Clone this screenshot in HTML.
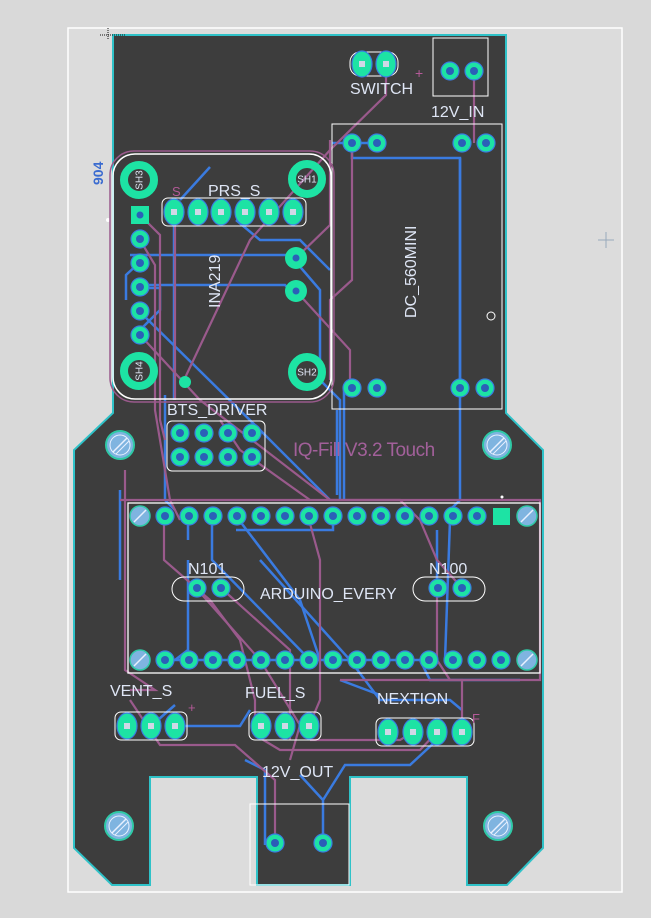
<!DOCTYPE html>
<html><head><meta charset="utf-8"><style>
html,body{margin:0;padding:0;background:#d9d9d9}
svg{display:block}
text{font-family:"Liberation Sans",sans-serif}
</style></head><body>
<svg width="651" height="918" viewBox="0 0 651 918" xmlns="http://www.w3.org/2000/svg">
<defs>
<g id="scr"><circle r="14" fill="#7fb4e0" stroke="#2fc9a6" stroke-width="2"/><circle r="10" fill="none" stroke="#e8f0ff" stroke-width="1"/><line x1="-7" y1="7" x2="7" y2="-7" stroke="#e8f0ff" stroke-width="1.5"/><line x1="-4" y1="9" x2="9" y2="-4" stroke="#e8f0ff"/></g>
<g id="sscr"><circle r="10" fill="#7fb4e0" stroke="#2fc9a6" stroke-width="1.5"/><line x1="-6" y1="6" x2="6" y2="-6" stroke="#e8f0ff" stroke-width="1.5"/></g>
<g id="pd"><circle r="9" fill="#1de3a4" stroke="#3a7be0" stroke-width="1.2"/><circle r="4" fill="#2b5fb8"/></g>
<g id="pdo"><ellipse rx="10" ry="13" fill="#1de3a4" stroke="#3a7be0" stroke-width="1.2"/><rect x="-3" y="-3" width="6" height="6" fill="#cfd8e6"/></g>
<g id="sh"><circle r="15" fill="none" stroke="#1de3a4" stroke-width="8"/></g>
</defs>
<rect x="68" y="28" width="554" height="864" fill="#dcdcdc" stroke="#fff" stroke-width="1.5"/>
<path d="M113 35 H506 V413 L543 450 V848 L507 885 H467 V777 H350 V885 H257 V777 H150 V885 H112 L74 848 V450 L113 413 Z" fill="#3d3d3d" stroke="#2fc2c8" stroke-width="2"/>
<path d="M108 28 V40 M100 35 H125" stroke="#111" stroke-dasharray="1,1"/>
<text x="103" y="185" transform="rotate(-90 103 185)" font-size="14" font-weight="bold" fill="#3a6bd0">904</text>
<circle cx="108" cy="220" r="2" fill="#fff"/>
<path d="M598 240 H614 M606 232 V248" stroke="#9ab" stroke-width="1"/>

<g fill="none" stroke="#3a7be0" stroke-width="2.5">
<path d="M352 143 H332 M352 143 V158 H460 V388 M377 143 H352"/>
<path d="M460 158 V380 M460 395 V500 L450 510"/>
<path d="M344 390 V500 M337 410 V495"/>
<path d="M210 167 L180 200"/>
<path d="M140 262 L126 275 V300 M140 288 H160 V310 L140 330"/>
<path d="M130 255 H290 L320 290 V380 L340 400 V500"/>
<path d="M140 285 H285 L300 300"/>
<path d="M140 312 L260 430 L330 500"/>
<path d="M174 225 V400 M165 395 V500 L175 510"/>
<path d="M236 220 L260 240 H300 L330 270"/>
<path d="M188 516 V540 M212 516 V560 L310 660 M236 516 L300 600 L320 660"/>
<path d="M236 530 H333 V516"/>
<path d="M188 560 V650 L175 660 H300"/>
<path d="M309 660 H420 L430 680 L520 680"/>
<path d="M260 560 L350 660 L380 700 H450 L462 710"/>
<path d="M437 530 V588 M450 520 L445 660"/>
<path d="M151 726 L175 705 M175 726 H240 L250 710"/>
<path d="M265 845 V770 L245 760 M323 843 V800 L300 775 M323 800 L345 765 H410 L437 740"/>
<path d="M120 490 V580 M340 680 L380 695"/>
</g>
<g fill="none" stroke="#9a5a8c" stroke-width="2.2">
<path d="M386 64 V95 L330 150 L250 240 L184 380"/>
<path d="M474 71 V143 M352 143 V280 L330 300 V380"/>
<path d="M296 258 L330 225 V140"/>
<path d="M296 291 L350 350 V388"/>
<path d="M140 215 L160 235 V420 L165 440"/>
<path d="M140 240 L155 265 V410 L170 500 L180 520"/>
<path d="M140 335 L200 400 L330 500 H400 L420 520 L437 560 L462 588"/>
<path d="M175 212 V400"/>
<path d="M125 470 V670 L155 690 H130"/>
<path d="M120 500 H540 V680 H340"/>
<path d="M164 516 V560 L210 600 L240 640 L255 700 L255 730"/>
<path d="M196 588 L260 660 L300 725 L290 760"/>
<path d="M221 588 L290 650 V740"/>
<path d="M309 520 L320 560 V700 L309 726"/>
<path d="M310 740 H400 L413 732 M437 732 L420 750 H280 L255 735"/>
<path d="M437 590 V660 L450 680 H462 V732"/>
<path d="M130 700 L160 745 H235 L275 780 V843"/>
<path d="M220 420 L240 450 L310 500"/>
</g>

<rect x="350" y="52" width="48" height="24" rx="10" fill="none" stroke="#fff" stroke-width="1"/>
<use href="#pdo" x="362" y="64"/><use href="#pdo" x="386" y="64"/>
<text x="350" y="94" font-size="16" fill="#dfe6f5">SWITCH</text>
<text x="415" y="78" font-size="14" fill="#b45a98">+</text>
<rect x="433" y="38" width="55" height="58" fill="none" stroke="#fff" stroke-width="1"/>
<use href="#pd" x="450" y="71"/><use href="#pd" x="474" y="71"/>
<text x="431" y="117" font-size="16" fill="#dfe6f5">12V_IN</text>
<rect x="332" y="124" width="170" height="285" fill="none" stroke="#fff" stroke-width="1"/>
<use href="#pd" x="352" y="143"/><use href="#pd" x="377" y="143"/><use href="#pd" x="462" y="143"/><use href="#pd" x="486" y="143"/>
<use href="#pd" x="352" y="388"/><use href="#pd" x="377" y="388"/><use href="#pd" x="460" y="388"/><use href="#pd" x="485" y="388"/>
<circle cx="491" cy="316" r="4" fill="none" stroke="#fff"/>
<text x="416" y="318" transform="rotate(-90 416 318)" font-size="16" fill="#dfe6f5">DC_560MINI</text>
<rect x="113" y="154" width="218" height="245" rx="22" fill="none" stroke="#fff" stroke-width="1.5"/>
<rect x="110" y="151" width="224" height="251" rx="24" fill="none" stroke="#9a5a8c" stroke-width="1.5"/>
<use href="#sh" x="139" y="180"/><use href="#sh" x="307" y="179"/><use href="#sh" x="139" y="371"/><use href="#sh" x="307" y="372"/>
<g font-size="10" fill="#dfe6f5" text-anchor="middle">
<text x="139" y="180" dy="3.5" transform="rotate(-90 139 180)">SH3</text>
<text x="307" y="179" dy="3.5">SH1</text>
<text x="139" y="371" dy="3.5" transform="rotate(-90 139 371)">SH4</text>
<text x="307" y="372" dy="3.5">SH2</text></g>
<rect x="131" y="206" width="18" height="18" fill="#1de3a4"/><circle cx="140" cy="215" r="3.5" fill="#2b5fb8"/>
<use href="#pd" x="140" y="239"/><use href="#pd" x="140" y="263"/><use href="#pd" x="140" y="287"/><use href="#pd" x="140" y="311"/><use href="#pd" x="140" y="335"/>
<rect x="162" y="198" width="144" height="28" rx="6" fill="none" stroke="#fff"/>
<use href="#pdo" x="174" y="212"/><use href="#pdo" x="198" y="212"/><use href="#pdo" x="221" y="212"/><use href="#pdo" x="245" y="212"/><use href="#pdo" x="269" y="212"/><use href="#pdo" x="293" y="212"/>
<circle cx="296" cy="258" r="11" fill="#1de3a4"/><circle cx="296" cy="258" r="3.5" fill="#2b5fb8"/>
<circle cx="296" cy="291" r="11" fill="#1de3a4"/><circle cx="296" cy="291" r="3.5" fill="#2b5fb8"/>
<circle cx="185" cy="382" r="6" fill="#1de3a4"/>
<text x="208" y="196" font-size="16" fill="#dfe6f5">PRS_S</text>
<text x="172" y="196" font-size="13" fill="#b45a98">S</text>
<text x="220" y="308" transform="rotate(-90 220 308)" font-size="16" fill="#dfe6f5">INA219</text>
<rect x="167" y="421" width="98" height="50" rx="5" fill="none" stroke="#fff"/>
<use href="#pd" x="180" y="433"/><use href="#pd" x="204" y="433"/><use href="#pd" x="228" y="433"/><use href="#pd" x="252" y="433"/><use href="#pd" x="180" y="457"/><use href="#pd" x="204" y="457"/><use href="#pd" x="228" y="457"/><use href="#pd" x="252" y="457"/>
<text x="167" y="415" font-size="16" fill="#dfe6f5">BTS_DRIVER</text>
<text x="293" y="456" font-size="19" fill="#a2609a" letter-spacing="-0.5">IQ-Fill V3.2 Touch</text>
<use href="#scr" x="120" y="445"/><use href="#scr" x="497" y="445"/><use href="#scr" x="119" y="826"/><use href="#scr" x="498" y="826"/>
<rect x="128" y="503" width="412" height="170" fill="none" stroke="#fff" stroke-width="1.3"/>
<use href="#sscr" x="140" y="516"/><use href="#sscr" x="527" y="516"/><use href="#sscr" x="140" y="660"/><use href="#sscr" x="527" y="660"/>
<use href="#pd" x="165" y="516"/><use href="#pd" x="189" y="516"/><use href="#pd" x="213" y="516"/><use href="#pd" x="237" y="516"/><use href="#pd" x="261" y="516"/><use href="#pd" x="285" y="516"/><use href="#pd" x="309" y="516"/><use href="#pd" x="333" y="516"/><use href="#pd" x="357" y="516"/><use href="#pd" x="381" y="516"/><use href="#pd" x="405" y="516"/><use href="#pd" x="429" y="516"/><use href="#pd" x="453" y="516"/><use href="#pd" x="477" y="516"/>
<rect x="493" y="508" width="17" height="17" fill="#1de3a4"/>
<use href="#pd" x="165" y="660"/><use href="#pd" x="189" y="660"/><use href="#pd" x="213" y="660"/><use href="#pd" x="237" y="660"/><use href="#pd" x="261" y="660"/><use href="#pd" x="285" y="660"/><use href="#pd" x="309" y="660"/><use href="#pd" x="333" y="660"/><use href="#pd" x="357" y="660"/><use href="#pd" x="381" y="660"/><use href="#pd" x="405" y="660"/><use href="#pd" x="429" y="660"/><use href="#pd" x="453" y="660"/><use href="#pd" x="477" y="660"/><use href="#pd" x="501" y="660"/>
<circle cx="502" cy="497" r="1.5" fill="#fff"/>
<rect x="172" y="577" width="72" height="24" rx="12" fill="none" stroke="#fff"/>
<use href="#pd" x="197" y="588"/><use href="#pd" x="221" y="588"/>
<rect x="413" y="577" width="72" height="24" rx="12" fill="none" stroke="#fff"/>
<use href="#pd" x="438" y="588"/><use href="#pd" x="462" y="588"/>
<text x="188" y="574" font-size="16" fill="#dfe6f5">N101</text>
<text x="429" y="574" font-size="16" fill="#dfe6f5">N100</text>
<text x="260" y="599" font-size="16" fill="#dfe6f5">ARDUINO_EVERY</text>
<rect x="115" y="712" width="72" height="28" rx="6" fill="none" stroke="#fff"/>
<use href="#pdo" x="127" y="726"/><use href="#pdo" x="151" y="726"/><use href="#pdo" x="175" y="726"/>
<text x="110" y="696" font-size="16" fill="#dfe6f5">VENT_S</text>
<text x="188" y="712" font-size="13" fill="#b45a98">+</text>
<rect x="249" y="712" width="72" height="28" rx="6" fill="none" stroke="#fff"/>
<use href="#pdo" x="261" y="726"/><use href="#pdo" x="285" y="726"/><use href="#pdo" x="309" y="726"/>
<text x="245" y="698" font-size="16" fill="#dfe6f5">FUEL_S</text>
<rect x="376" y="718" width="98" height="28" rx="6" fill="none" stroke="#fff"/>
<use href="#pdo" x="388" y="732"/><use href="#pdo" x="413" y="732"/><use href="#pdo" x="437" y="732"/><use href="#pdo" x="462" y="732"/>
<text x="377" y="704" font-size="16" fill="#dfe6f5">NEXTION</text>
<text x="472" y="723" font-size="13" fill="#b45a98">F</text>
<text x="262" y="777" font-size="16" fill="#dfe6f5">12V_OUT</text>
<rect x="250" y="804" width="99" height="81" fill="none" stroke="#fff"/>
<use href="#pd" x="275" y="843"/><use href="#pd" x="323" y="843"/>
</svg>
</body></html>
